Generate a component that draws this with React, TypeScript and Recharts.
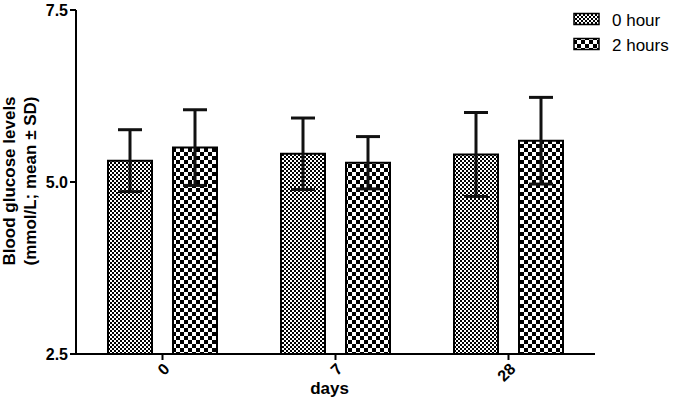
import React from 'react';
import { BarChart, Bar, XAxis, YAxis, ErrorBar, Legend } from 'recharts';

const days = ['0', '7', '28'];
const hour0Mean = [5.31, 5.41, 5.4];
const hour0SD = [0.45, 0.52, 0.61];
const hour2Mean = [5.5, 5.28, 5.6];
const hour2SD = [0.55, 0.38, 0.63];
const yTicks = [2.5, 5.0, 7.5];
const seriesNames = ['0 hour', '2 hours'];

const data = days.map((d, i) => ({
  day: d,
  h0: hour0Mean[i],
  h0sd: hour0SD[i],
  h2: hour2Mean[i],
  h2sd: hour2SD[i],
}));

const FONT = '"Liberation Sans", Arial, Helvetica, sans-serif';

const Patterns = ({ prefix }: { prefix: string }) => (
  <defs>
    <pattern id={`${prefix}-fine`} patternUnits="userSpaceOnUse" width={4} height={4}>
      <rect x={0} y={0} width={4} height={4} fill="#fff" />
      <rect x={0} y={0} width={2} height={2} fill="#000" />
      <rect x={2} y={2} width={2} height={2} fill="#000" />
    </pattern>
    <pattern id={`${prefix}-coarse`} patternUnits="userSpaceOnUse" width={8} height={8}>
      <rect x={0} y={0} width={8} height={8} fill="#fff" />
      <rect x={0} y={0} width={4} height={4} fill="#000" />
      <rect x={4} y={4} width={4} height={4} fill="#000" />
    </pattern>
  </defs>
);

const YLabel = (props: any) => {
  const vb = props.viewBox || { x: 0, y: 10, width: 76, height: 344 };
  const cy = vb.y + vb.height / 2 - 1;
  return (
    <text
      transform={`translate(0, ${cy}) rotate(-90)`}
      textAnchor="middle"
      fontFamily={FONT}
      fontWeight="bold"
      fontSize={17}
      fill="#000"
    >
      <tspan x={0} y={15}>Blood glucose levels</tspan>
      <tspan x={0} y={36}>(mmol/L; mean ± SD)</tspan>
    </text>
  );
};

const LegendContent = () => {
  const fills = ['url(#lg-fine)', 'url(#lg-coarse)'];
  return (
    <svg width={110} height={60} style={{ display: 'block', overflow: 'visible' }}>
      <Patterns prefix="lg" />
      {seriesNames.map((name, i) => (
        <g key={name}>
          <rect x={9} y={13.5 + i * 25} width={25} height={11} fill={fills[i]} stroke="#000" strokeWidth={1.5} />
          <text x={47} y={26 + i * 25} fontFamily={FONT} fontSize={17} fill="#000">
            {name}
          </text>
        </g>
      ))}
    </svg>
  );
};

export default function App() {
  return (
    <div style={{ position: 'absolute', left: 0, top: 0, width: 675, height: 402, background: '#fff' }}>
      <BarChart
        width={675}
        height={402}
        data={data}
        margin={{ top: 10, right: 80, bottom: 0, left: 0 }}
        barSize={44}
        barGap={21}
      >
        <Patterns prefix="bar" />
        <XAxis
          dataKey="day"
          height={48}
          axisLine={{ stroke: '#000', strokeWidth: 2 }}
          tickLine={{ stroke: '#000', strokeWidth: 2 }}
          tickSize={6}
          angle={-45}
          textAnchor="end"
          tick={{ fill: '#000', fontSize: 16, fontWeight: 'bold', fontFamily: FONT }}
          label={{
            value: 'days',
            position: 'insideBottom',
            offset: 8,
            dx: -6,
            fill: '#000',
            fontSize: 17,
            fontWeight: 'bold',
            fontFamily: FONT,
          }}
        />
        <YAxis
          width={76}
          domain={[2.5, 7.5]}
          ticks={yTicks}
          allowDataOverflow
          tickFormatter={(v: number) => v.toFixed(1)}
          axisLine={{ stroke: '#000', strokeWidth: 2 }}
          tickLine={{ stroke: '#000', strokeWidth: 2 }}
          tickSize={6}
          tick={{ fill: '#000', fontSize: 16, fontWeight: 'bold', fontFamily: FONT }}
          label={<YLabel />}
        />
        <Legend
          layout="vertical"
          align="center"
          verticalAlign="middle"
          wrapperStyle={{ left: 565, top: 0, width: 110, height: 60 }}
          content={<LegendContent />}
        />
        <Bar dataKey="h0" name={seriesNames[0]} fill="url(#bar-fine)" stroke="#000" strokeWidth={2} isAnimationActive={false}>
          <ErrorBar dataKey="h0sd" width={12} strokeWidth={3} stroke="#111" direction="y" isAnimationActive={false} />
        </Bar>
        <Bar dataKey="h2" name={seriesNames[1]} fill="url(#bar-coarse)" stroke="#000" strokeWidth={2} isAnimationActive={false}>
          <ErrorBar dataKey="h2sd" width={12} strokeWidth={3} stroke="#111" direction="y" isAnimationActive={false} />
        </Bar>
      </BarChart>
    </div>
  );
}
